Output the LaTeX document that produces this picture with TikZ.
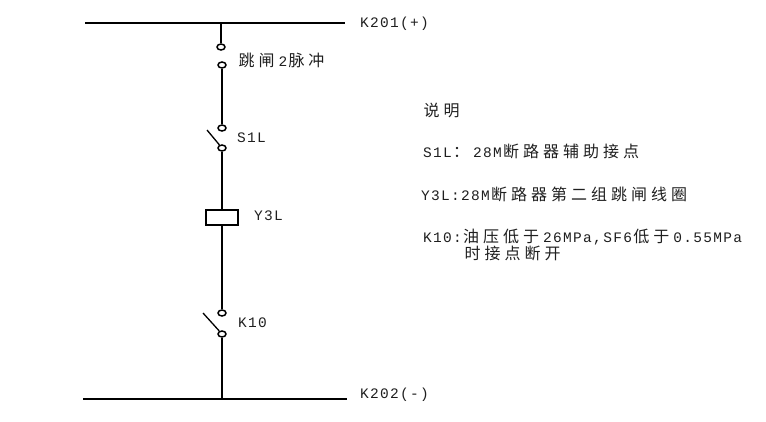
\documentclass[tikz,border=0pt]{standalone}
\usetikzlibrary{shapes.geometric}
\usepackage{fontspec}
\setmainfont{Liberation Mono}
\newfontfamily\cjk{Noto Sans CJK SC}[LetterSpace=25]
\newfontfamily\lat{Liberation Mono}[LetterSpace=9]
\newcommand{\zh}[1]{\kern1.3pt{\cjk\fontsize{16}{16}\selectfont #1}\kern4pt}
\tikzset{x=1pt,y=-1pt,
 wire/.style={line width=1.9pt,black},
 blade/.style={line width=1.3pt,black},
 contact/.style={ellipse,draw=black,line width=1.5pt,fill=white,inner sep=0pt,minimum width=8pt,minimum height=6pt},
 coil/.style={rectangle,draw=black,line width=1.8pt,fill=white,inner sep=0pt,minimum width=32pt,minimum height=15pt},
 lab/.style={anchor=west,inner sep=0pt,font=\lat\fontsize{14.5}{14.5}\selectfont,text=black!88}}
\begin{document}
\begin{tikzpicture}
\useasboundingbox (0,0) rectangle (766,421);
\coordinate (t1) at (85,23); \coordinate (t2) at (345,23);
\coordinate (b1) at (83,399); \coordinate (b2) at (347,399);
\coordinate (tj) at (221,23); \coordinate (bj) at (222,399);
\coordinate (s1b) at (207,130); \coordinate (k1b) at (203,313);
\draw[wire] (t1) -- (t2);
\draw[wire] (b1) -- (b2);
\node[contact] (c1) at (221,47) {};
\node[contact] (c2) at (222,65) {};
\node[contact] (c3) at (222,128) {};
\node[contact] (c4) at (222,148) {};
\node[coil] (y) at (222,217.5) {};
\node[contact] (c5) at (222,313) {};
\node[contact] (c6) at (222,334) {};
\draw[wire] (tj) -- (c1);
\draw[wire] (c2) -- (c3);
\draw[wire] (c4) -- (y);
\draw[wire] (y) -- (c5);
\draw[wire] (c6) -- (bj);
\draw[blade] (s1b) -- (c4);
\draw[blade] (k1b) -- (c6);
\node[lab] (n1) at (360,23.5) {K201(+)};
\node[lab] (n2) at (360,395) {K202(-)};
\node[lab] (n3) at (237,60) {\zh{跳闸}2\zh{脉冲}};
\node[lab] (n4) at (237,138) {S1L};
\node[lab] (n5) at (254,216) {Y3L};
\node[lab] (n6) at (238,323) {K10};
\node[lab] (n7) at (422,110) {\zh{说明}};
\node[lab] (n8) at (423,151) {S1L\zh{：}28M\zh{断路器辅助接点}};
\node[lab] (n9) at (421,194) {Y3L:28M\zh{断路器第二组跳闸线圈}};
\node[lab] (n10) at (423,237) {K10:\zh{油压低于}26MPa,SF6\zh{低于}0.55MPa};
\node[lab] (n11) at (463,253) {\zh{时接点断开}};
\end{tikzpicture}
\end{document}
